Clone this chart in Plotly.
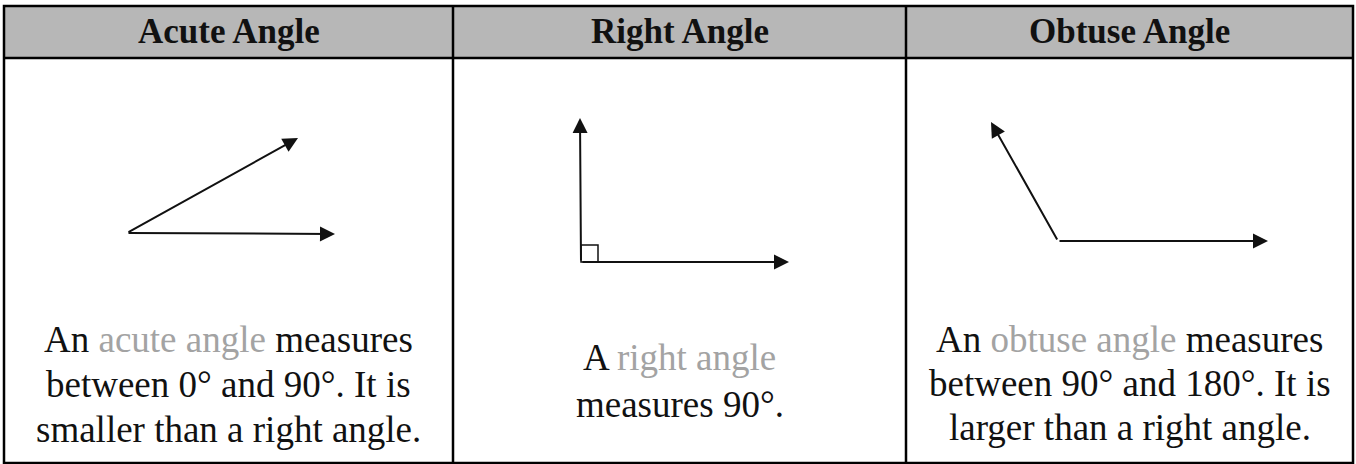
import plotly.graph_objects as go

# ---- data ----
headers = ["Acute Angle", "Right Angle", "Obtuse Angle"]
col_edges = [4, 453, 906, 1353]
table_top, header_bottom, table_bottom = 6, 58, 463

terms = ["acute angle", "right angle", "obtuse angle"]
line1_before = ["An ", "A ", "An "]
line1_after = [" measures", "", " measures"]
other_lines = [["between 0° and 90°. It is", "smaller than a right angle."],
               ["measures 90°."],
               ["between 90° and 180°. It is", "larger than a right angle."]]
first_baseline = [351, 369, 351]
line_step = [45, 47, 44]

# angle geometry (vertex, ray tip 1, ray tip 2) in picture units
vertex_x = [127, 581, 1058]
vertex_y = [233, 262, 241]
tip1_x = [335, 789, 1268]
tip1_y = [234, 262, 241]
tip2_x = [298, 580, 991]
tip2_y = [138, 118, 122]
right_mark = 17

W, H = 1356, 464
BODY = 37
HEAD = 35
fig = go.Figure()

# invisible trace to set the scales
fig.add_trace(go.Scatter(x=[0, W], y=[0, H], mode="markers",
                         marker=dict(opacity=0), hoverinfo="skip", showlegend=False))

shapes = []
shapes.append(dict(type="rect", xref="x", yref="y", x0=col_edges[0], x1=col_edges[-1],
                   y0=table_top, y1=header_bottom, fillcolor="#b7b7b7",
                   line=dict(width=0), layer="below"))
shapes.append(dict(type="rect", xref="x", yref="y", x0=col_edges[0], x1=col_edges[-1],
                   y0=table_top, y1=table_bottom, line=dict(color="black", width=2.5)))
shapes.append(dict(type="line", xref="x", yref="y", x0=col_edges[0], x1=col_edges[-1],
                   y0=header_bottom, y1=header_bottom, line=dict(color="black", width=2.5)))
for cx in col_edges[1:-1]:
    shapes.append(dict(type="line", xref="x", yref="y", x0=cx, x1=cx,
                       y0=table_top, y1=table_bottom, line=dict(color="black", width=2.5)))

annotations = []
for i in range(3):
    cx = (col_edges[i] + col_edges[i + 1]) / 2
    annotations.append(dict(x=cx, y=31, xref="x", yref="y",
                            text="<b>" + headers[i] + "</b>", showarrow=False,
                            font=dict(family="Liberation Serif", size=HEAD, color="#111111")))
    lines = [line1_before[i] + '<span style="color:#a3a3a3">' + terms[i] + "</span>"
             + line1_after[i]] + other_lines[i]
    for k, ln in enumerate(lines):
        base = first_baseline[i] + k * line_step[i]
        annotations.append(dict(x=cx, y=base - 0.3 * BODY, xref="x", yref="y", text=ln,
                                showarrow=False, align="center",
                                font=dict(family="Liberation Serif", size=BODY,
                                          color="#111111")))
    for tx, ty in ((tip1_x[i], tip1_y[i]), (tip2_x[i], tip2_y[i])):
        annotations.append(dict(x=tx, y=ty, ax=vertex_x[i], ay=vertex_y[i],
                                xref="x", yref="y", axref="x", ayref="y", text="",
                                showarrow=True, arrowhead=2, arrowsize=1.5,
                                arrowwidth=2, arrowcolor="#111111", standoff=0))

shapes.append(dict(type="rect", xref="x", yref="y",
                   x0=vertex_x[1], x1=vertex_x[1] + right_mark,
                   y0=vertex_y[1] - right_mark, y1=vertex_y[1],
                   line=dict(color="#111111", width=1.5)))

fig.update_layout(
    width=W, height=H, margin=dict(l=0, r=0, t=0, b=0),
    paper_bgcolor="white", plot_bgcolor="white",
    xaxis=dict(range=[0, W], visible=False, fixedrange=True),
    yaxis=dict(range=[H, 0], visible=False, fixedrange=True),
    shapes=shapes, annotations=annotations, showlegend=False,
)
fig.write_html("out.html", config={"displayModeBar": False},
               post_script="document.body.style.margin='0';document.body.style.overflow='hidden';")
